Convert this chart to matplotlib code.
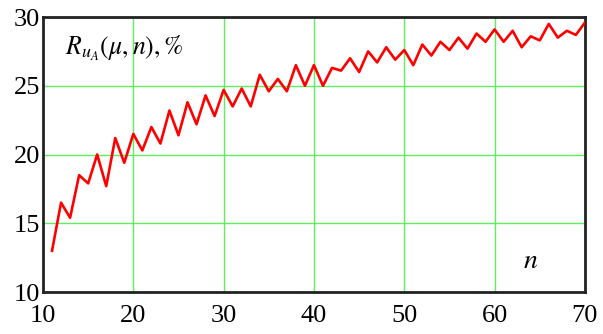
import numpy as np
import matplotlib
matplotlib.use("Agg")
import matplotlib.pyplot as plt

plt.rcParams['font.family'] = ['Liberation Serif', 'DejaVu Serif']
plt.rcParams['mathtext.fontset'] = 'stix'

# number of elements n and the ratio R, %
n = np.arange(11, 71)
R = [13.0, 16.5, 15.4, 18.5, 17.9, 20.0, 17.7, 21.2, 19.4, 21.5,
     20.3, 22.0, 20.8, 23.2, 21.4, 23.8, 22.2, 24.3, 22.8, 24.7,
     23.5, 24.8, 23.5, 25.8, 24.6, 25.5, 24.6, 26.5, 25.0, 26.5,
     25.0, 26.3, 26.1, 27.0, 26.0, 27.5, 26.7, 27.8, 26.9, 27.6,
     26.5, 28.0, 27.2, 28.2, 27.6, 28.5, 27.7, 28.8, 28.2, 29.1,
     28.2, 29.0, 27.8, 28.6, 28.3, 29.5, 28.5, 29.0, 28.7, 29.6]

xticks = [10, 20, 30, 40, 50, 60, 70]
yticks = [10, 15, 20, 25, 30]

fig = plt.figure(figsize=(6.03, 3.34), dpi=100)
ax = fig.add_axes([0.0713, 0.1257, 0.8987, 0.8233])

ax.plot(n, R, color='#ff0000', lw=1.9, zorder=3)

ax.set_xlim(10, 70)
ax.set_ylim(10, 30)
ax.set_xticks(xticks)
ax.set_yticks(yticks)
ax.grid(True, color='#5cf05c', lw=1.0)
ax.tick_params(length=0, labelsize=19)
ax.tick_params(axis='x', pad=9)
ax.tick_params(axis='y', pad=2)
for lab in ax.get_yticklabels():
    lab.set_verticalalignment('center_baseline')
for s in ax.spines.values():
    s.set_linewidth(2.0)
    s.set_color('#222222')

ax.text(0.04, 0.885, r'$R_{u_A}\left(\mu ,n\right),\%$', transform=ax.transAxes,
        fontsize=18.5, va='center', ha='left')
ax.text(0.885, 0.11, r'$n$', transform=ax.transAxes, fontsize=20,
        va='center', ha='left')

fig.savefig('out.png', dpi=100)
